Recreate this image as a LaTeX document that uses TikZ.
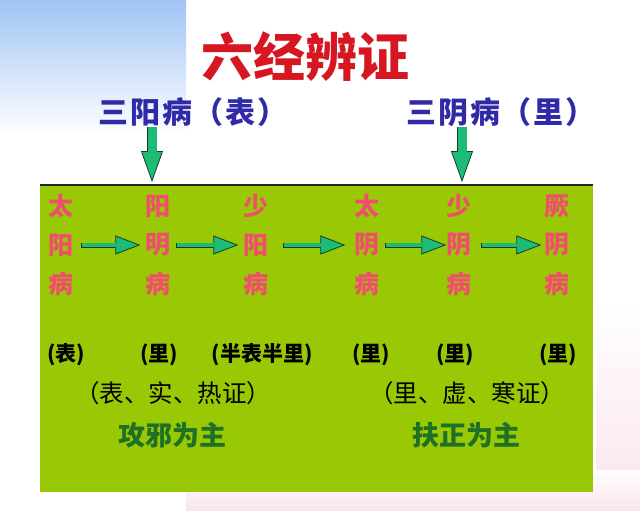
\documentclass[tikz,border=0pt]{standalone}
\usepackage{fontspec}
\setmainfont{Noto Sans CJK SC}
\usetikzlibrary{arrows.meta}
\definecolor{titlered}{RGB}{214,22,32}
\definecolor{labelblue}{RGB}{48,42,168}
\definecolor{charred}{RGB}{240,78,108}
\definecolor{boxgreen}{RGB}{153,200,4}
\definecolor{arrowgreen}{RGB}{28,188,118}
\definecolor{arrowedge}{RGB}{25,60,40}
\definecolor{textgreen}{RGB}{30,112,36}
\definecolor{bgblue}{RGB}{160,196,244}
\definecolor{bgpink}{RGB}{250,228,236}
\tikzset{
  redchar/.style={text=charred, inner sep=0pt, font=\fontsize{25}{25}\selectfont\bfseries},
  parenlabel/.style={inner sep=0pt, font=\fontsize{21}{21}\selectfont\bfseries, text=black},
  summary/.style={inner sep=0pt, font=\fontsize{24.5}{25}\selectfont, text=black},
  principle/.style={inner sep=0pt, font=\fontsize{27}{27}\selectfont\bfseries, text=textgreen},
  grouplabel/.style={text=labelblue, inner sep=0pt, font=\fontsize{30}{30}\selectfont\bfseries\addfontfeature{LetterSpace=6}},
  harrow/.style={line width=5pt, draw=arrowedge,
    -{Triangle[length=25pt,width=19pt,line width=0.8pt,fill=arrowgreen]},
    postaction={draw=arrowgreen, line width=3.4pt, -, shorten <=0.8pt, shorten >=24pt}},
  varrow/.style={line width=10.5pt, draw=arrowedge,
    -{Triangle[length=31pt,width=22pt,line width=0.8pt,fill=arrowgreen]},
    postaction={draw=arrowgreen, line width=9pt, -, shorten <=0pt, shorten >=30pt}},
}
\begin{document}
\begin{tikzpicture}[x=1pt,y=-1pt]
\useasboundingbox (0,0) rectangle (640,511);
% background
\fill[white] (0,0) rectangle (640,511);
\shade[top color=bgblue, bottom color=white] (0,0) rectangle (186,135);
\shade[top color=white, bottom color=bgpink] (596,300) rectangle (640,511);
\shade[top color=white, bottom color=bgpink] (186,470) rectangle (640,511);
% green panel
\node[fill=boxgreen, draw=none, anchor=north west, minimum width=553pt, minimum height=307pt, inner sep=0pt] (box) at (40,185) {};
\draw[line width=1.2pt, black!85] (box.north west) -- (box.north east);
% title
\node[text=titlered, font=\fontsize{52}{52}\selectfont\bfseries, inner sep=0pt] (title) at (305,57) {六经辨证};
% group labels
\node[grouplabel] (yang) at (193,112) {三阳病（表）};
\node[grouplabel] (yin) at (501,112) {三阴病（里）};
\coordinate (yangtop) at (152,127);
\coordinate (yintop) at (462,127);
\draw[varrow] (yangtop) -- ([yshift=3pt]box.north -| yangtop);
\draw[varrow] (yintop) -- ([yshift=3pt]box.north -| yintop);
% six channels
\foreach \n/\x/\a/\b in {1/61/太/阳, 2/158/阳/明, 3/256/少/阳, 4/367/太/阴, 5/459/少/阴, 6/557/厥/阴}{
  \node[redchar] (c\n a) at (\x,206) {\a};
  \node[redchar] (c\n b) at (\x,245) {\b};
  \node[redchar] (c\n c) at (\x,284) {病};
}
\draw[harrow] ([xshift=7pt]c1b.east) -- ([xshift=-5pt]c2b.west);
\draw[harrow] ([xshift=5pt]c2b.east) -- ([xshift=-5pt]c3b.west);
\draw[harrow] ([xshift=14pt]c3b.east) -- ([xshift=-9pt]c4b.west);
\draw[harrow] ([xshift=5pt]c4b.east) -- ([xshift=0pt]c5b.west);
\draw[harrow] ([xshift=9pt]c5b.east) -- ([xshift=-3pt]c6b.west);
% location labels
\node[parenlabel] (p1) at (66,355) {(表)};
\node[parenlabel] (p2) at (159,355) {(里)};
\node[parenlabel] (p3) at (262,355) {(半表半里)};
\node[parenlabel] (p4) at (371,355) {(里)};
\node[parenlabel] (p5) at (455,355) {(里)};
\node[parenlabel] (p6) at (558,355) {(里)};
% summaries
\node[summary] (s1) at (173,393) {（表、实、热证）};
\node[summary] (s2) at (467,393) {（里、虚、寒证）};
\node[principle] (t1) at (172,435) {攻邪为主};
\node[principle] (t2) at (466,435) {扶正为主};
\end{tikzpicture}
\end{document}
